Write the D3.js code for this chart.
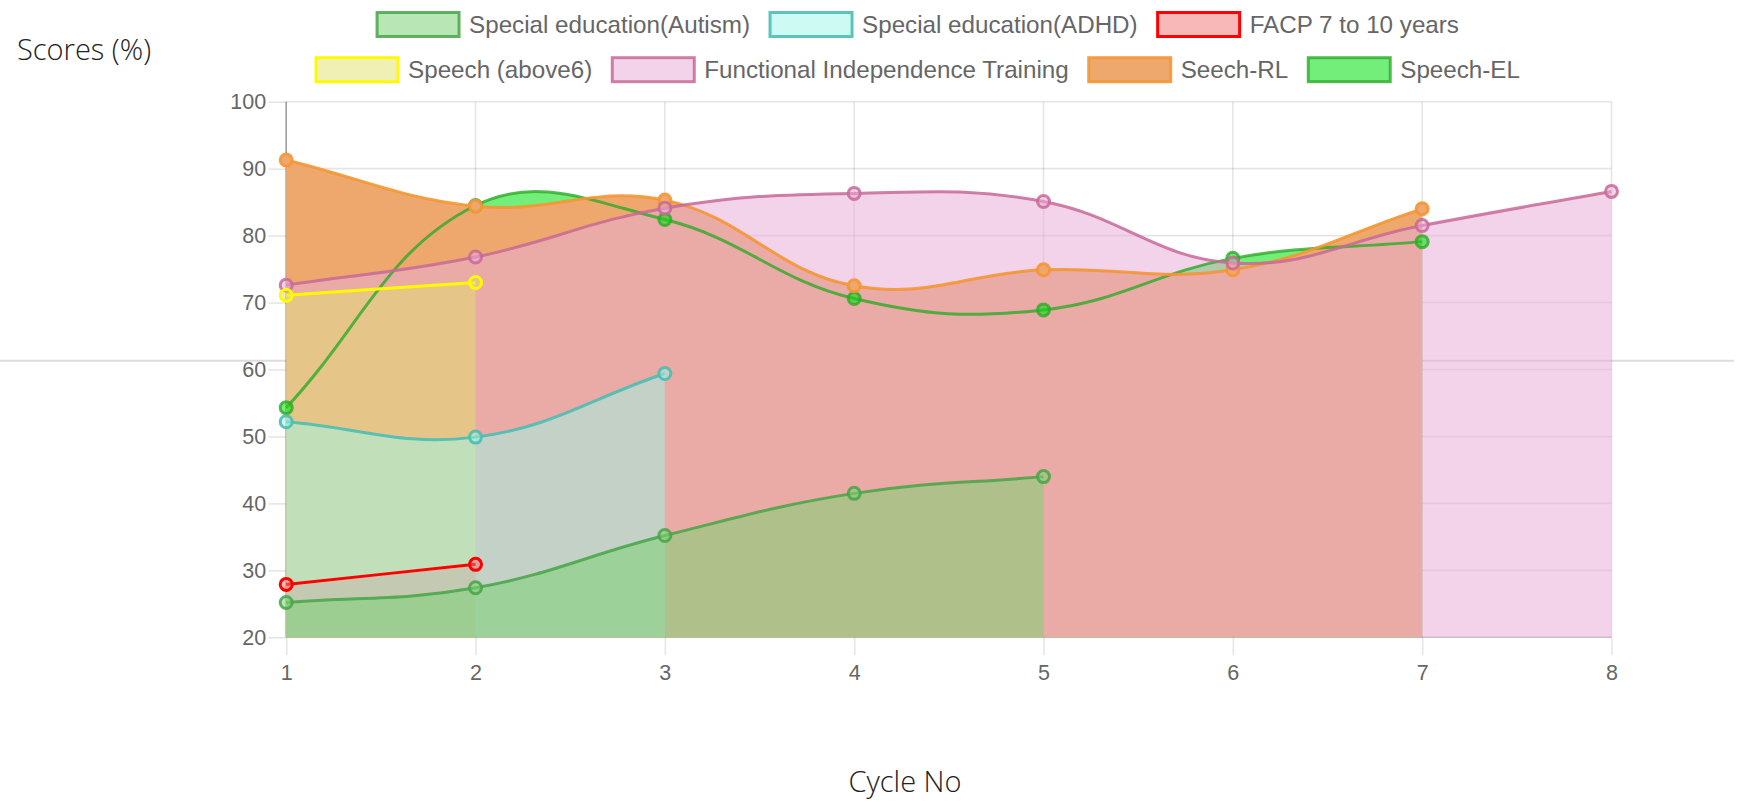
<!DOCTYPE html>
<html>
<head>
<meta charset="utf-8">
<script src="https://cdn.jsdelivr.net/npm/d3@7"></script>
<style>
  body { margin: 0; background: #fff; }
  svg { display: block; }
  .tick text { font-family: "Liberation Sans", Arial, sans-serif; font-size: 21.5px; fill: #666; }
  .axis-title { font-family: "Open Sans", sans-serif; font-weight: 300; font-size: 29px; fill: #222; }
</style>
</head>
<body>
<script>
// cycle numbers on the x axis
var cycles = [1, 2, 3, 4, 5, 6, 7, 8];
var yTicks = [20, 30, 40, 50, 60, 70, 80, 90, 100];

// scores per cycle, one list per programme
var autism = [25.2, 27.4, 35.2, 41.5, 44.0];
var adhd = [52.2, 49.9, 59.4];
var facp = [27.9, 30.9];
var speechAbove6 = [71.1, 73.0];
var fit = [72.6, 76.8, 84.1, 86.3, 85.1, 75.9, 81.5, 86.6];
var seechRL = [91.3, 84.4, 85.3, 72.5, 74.9, 74.9, 84.0];
var speechEL = [54.3, 84.5, 82.4, 70.6, 68.9, 76.6, 79.1];

var names = ["Special education(Autism)", "Special education(ADHD)", "FACP 7 to 10 years",
  "Speech (above6)", "Functional Independence Training", "Seech-RL", "Speech-EL"];

var datasets = [
  {label: names[0], data: autism, bg: "rgba(126,210,119,0.55)", border: "rgba(70,165,70,0.85)"},
  {label: names[1], data: adhd, bg: "rgba(156,248,232,0.5)", border: "rgba(75,190,180,0.9)"},
  {label: names[2], data: facp, bg: "rgba(241,113,113,0.5)", border: "rgb(255,0,0)"},
  {label: names[3], data: speechAbove6, bg: "rgba(225,225,108,0.5)", border: "rgb(255,250,0)"},
  {label: names[4], data: fit, bg: "rgba(230,172,215,0.53)", border: "rgba(200,105,150,0.85)"},
  {label: names[5], data: seechRL, bg: "rgb(238,168,110)", border: "rgba(245,150,50,0.9)"},
  {label: names[6], data: speechEL, bg: "rgba(0,224,15,0.55)", border: "rgba(45,170,40,0.8)"}
];

var W = 1746, H = 802;
var svg = d3.select("body").append("svg").attr("width", W).attr("height", H);

var x = d3.scaleLinear().domain([1, 8]).range([286.2, 1611.5]);
var y = d3.scaleLinear().domain([20, 100]).range([637.3, 101.7]);

// stray page rule behind the canvas
svg.append("line").attr("x1", 0).attr("x2", 1734).attr("y1", 360.7).attr("y2", 360.7)
  .attr("stroke", "#dcdcdc").attr("stroke-width", 2);

// grid
var grid = svg.append("g");
grid.selectAll(".gy").data(yTicks).enter().append("line")
  .attr("x1", x(1)).attr("x2", x(8)).attr("y1", d => y(d)).attr("y2", d => y(d))
  .attr("stroke", "rgba(0,0,0,0.1)").attr("stroke-width", 1.6);
grid.selectAll(".gx").data(cycles).enter().append("line")
  .attr("x1", d => x(d)).attr("x2", d => x(d)).attr("y1", y(100)).attr("y2", y(20))
  .attr("stroke", "rgba(0,0,0,0.1)").attr("stroke-width", 1.6);

// axes (labels + tick marks)
var yAxis = svg.append("g").attr("transform", "translate(" + x(1) + ",0)")
  .call(d3.axisLeft(y).tickValues(yTicks).tickSize(18).tickPadding(2).tickFormat(d3.format("d")));
var xAxis = svg.append("g").attr("transform", "translate(0," + y(20) + ")")
  .call(d3.axisBottom(x).tickValues(cycles).tickSize(18).tickPadding(9).tickFormat(d3.format("d")));
[yAxis, xAxis].forEach(function (a) {
  a.select(".domain").remove();
  a.selectAll(".tick line").attr("stroke", "rgba(0,0,0,0.1)").attr("stroke-width", 1.6);
});
yAxis.selectAll(".tick text").attr("x", -20);

svg.append("line").attr("x1", x(1)).attr("x2", x(1)).attr("y1", y(100)).attr("y2", y(20))
  .attr("stroke", "rgba(0,0,0,0.3)").attr("stroke-width", 1.6);
svg.append("line").attr("x1", x(1)).attr("x2", x(8)).attr("y1", y(20)).attr("y2", y(20))
  .attr("stroke", "rgba(0,0,0,0.15)").attr("stroke-width", 1.6);

// chart.js style spline (tension 0.4)
function ctrlPoints(pts, t) {
  return pts.map(function (p, i) {
    var prev = pts[i - 1] || p, next = pts[i + 1] || p;
    var d01 = Math.hypot(p[0] - prev[0], p[1] - prev[1]);
    var d12 = Math.hypot(next[0] - p[0], next[1] - p[1]);
    var s01 = d01 / (d01 + d12), s12 = d12 / (d01 + d12);
    if (isNaN(s01)) s01 = 0;
    if (isNaN(s12)) s12 = 0;
    var fa = t * s01, fb = t * s12;
    return {
      prev: [p[0] - fa * (next[0] - prev[0]), p[1] - fa * (next[1] - prev[1])],
      next: [p[0] + fb * (next[0] - prev[0]), p[1] + fb * (next[1] - prev[1])]
    };
  });
}
function curvePath(pts, closeToBottom) {
  var cp = ctrlPoints(pts, 0.4);
  var p = d3.path();
  p.moveTo(pts[0][0], pts[0][1]);
  for (var i = 1; i < pts.length; i++) {
    p.bezierCurveTo(cp[i - 1].next[0], cp[i - 1].next[1], cp[i].prev[0], cp[i].prev[1], pts[i][0], pts[i][1]);
  }
  if (closeToBottom) {
    p.lineTo(pts[pts.length - 1][0], y(20));
    p.lineTo(pts[0][0], y(20));
    p.closePath();
  }
  return p.toString();
}

datasets.forEach(function (ds) {
  ds.pts = ds.data.map(function (v, i) { return [x(cycles[i]), y(v)]; });
});
var order = datasets.slice().reverse();

// fills first, last dataset at the bottom
var fills = svg.append("g");
order.forEach(function (ds) {
  fills.append("path").attr("d", curvePath(ds.pts, true)).attr("fill", ds.bg);
});

// lines and points
var lines = svg.append("g");
order.forEach(function (ds) {
  lines.append("path").attr("d", curvePath(ds.pts, false))
    .attr("fill", "none").attr("stroke", ds.border).attr("stroke-width", 3);
  lines.selectAll(null).data(ds.pts).enter().append("circle")
    .attr("cx", d => d[0]).attr("cy", d => d[1]).attr("r", 6)
    .attr("fill", ds.bg).attr("stroke", ds.border).attr("stroke-width", 3);
});

// legend, centred rows like chart.js
var legend = svg.append("g");
var boxW = 82, boxH = 24, gap = 10, spacing = 20, maxRow = 1300, rowH = 45.2, centreX = 918, firstRowY = 24.5;
var items = datasets.map(function (ds) {
  var g = legend.append("g");
  g.append("rect").attr("width", boxW).attr("height", boxH).attr("y", -boxH / 2)
    .attr("fill", ds.bg).attr("stroke", ds.border).attr("stroke-width", 3);
  var t = g.append("text").attr("x", boxW + gap).attr("y", 8)
    .attr("font-family", "Liberation Sans, Arial, sans-serif").attr("font-size", 24.2)
    .attr("fill", "#666").text(ds.label);
  return {g: g, w: boxW + gap + t.node().getComputedTextLength()};
});
var rows = [[]], rowW = [0];
items.forEach(function (it) {
  var r = rows.length - 1;
  var add = (rows[r].length ? spacing : 0) + it.w;
  if (rows[r].length && rowW[r] + add > maxRow) { rows.push([it]); rowW.push(it.w); }
  else { rows[r].push(it); rowW[r] += add; }
});
rows.forEach(function (row, r) {
  var cx = centreX - rowW[r] / 2;
  row.forEach(function (it) {
    it.g.attr("transform", "translate(" + cx + "," + (firstRowY + r * rowH) + ")");
    cx += it.w + spacing;
  });
});

// axis titles
svg.append("text").attr("class", "axis-title").attr("x", 17).attr("y", 60).text("Scores (%)");
svg.append("text").attr("class", "axis-title").attr("x", 905).attr("y", 792)
  .attr("text-anchor", "middle").text("Cycle No");
</script>
</body>
</html>
